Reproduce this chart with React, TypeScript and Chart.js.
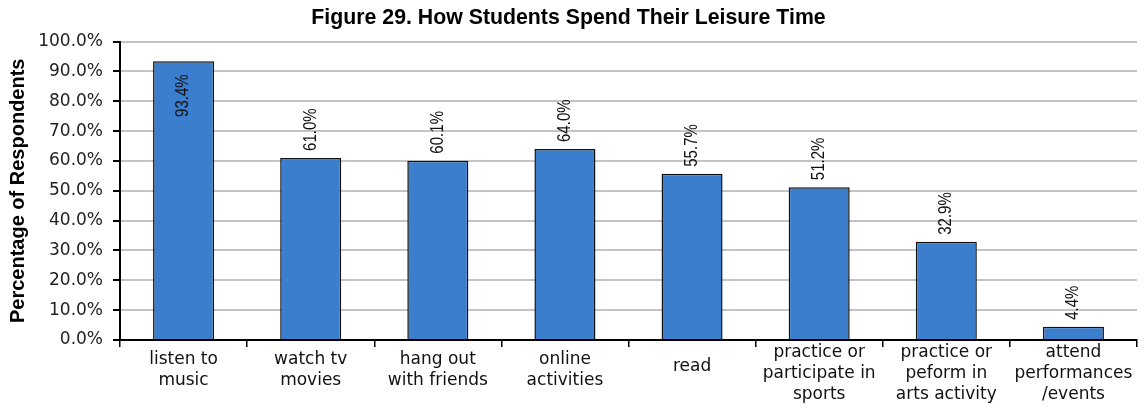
import React, { useEffect, useRef } from 'react';
import { Chart, registerables } from 'chart.js';
Chart.register(...registerables);

const titleText = 'Figure 29. How Students Spend Their Leisure Time';
const yTitle = 'Percentage of Respondents';
const categories: string[][] = [
  ['listen to', 'music'],
  ['watch tv', 'movies'],
  ['hang out', 'with friends'],
  ['online', 'activities'],
  ['read'],
  ['practice or', 'participate in', 'sports'],
  ['practice or', 'peform in', 'arts activity'],
  ['attend', 'performances', '/events'],
];
const values = [93.4, 61.0, 60.1, 64.0, 55.7, 51.2, 32.9, 4.4];

const TICK_FONT = '"DejaVu Sans", Verdana, sans-serif';
const BOLD_FONT = '"Liberation Sans", Arial, sans-serif';

const labelsPlugin = {
  id: 'customLabels',
  afterDatasetsDraw(chart: any) {
    const ctx = chart.ctx;
    const meta = chart.getDatasetMeta(0);
    const sq = 0.86;
    ctx.save();
    ctx.font = `17.5px ${BOLD_FONT}`;
    ctx.fillStyle = '#111';
    ctx.textBaseline = 'middle';
    meta.data.forEach((bar: any, i: number) => {
      const v = values[i];
      const txt = v.toFixed(1) + '%';
      ctx.save();
      ctx.translate(bar.x, bar.y);
      ctx.rotate(-Math.PI / 2);
      ctx.scale(sq, 1);
      if (v > 90) {
        ctx.textAlign = 'right';
        ctx.fillText(txt, -13 / sq, 0);
      } else {
        ctx.textAlign = 'left';
        ctx.fillText(txt, 7 / sq, 0);
      }
      ctx.restore();
    });
    // x labels
    const xs = chart.scales.x;
    ctx.font = `17px ${TICK_FONT}`;
    ctx.textAlign = 'center';
    ctx.textBaseline = 'middle';
    ctx.fillStyle = '#111';
    const lh = 21;
    categories.forEach((lines, i) => {
      const x = xs.getPixelForTick(i);
      const start = 352.5 + (3 - lines.length) * 7;
      lines.forEach((ln, j) => ctx.fillText(ln, x, start + j * lh));
    });
    ctx.restore();
  },
};

export default function App() {
  const ref = useRef<HTMLCanvasElement>(null);
  useEffect(() => {
    document.body.style.margin = '0';
    const chart = new Chart(ref.current!, {
      type: 'bar',
      data: {
        labels: categories.map((c) => c.join(' ')),
        datasets: [
          {
            data: values,
            backgroundColor: '#3a7ecd',
            borderColor: '#111',
            borderWidth: 1.5,
            barPercentage: 0.48,
            categoryPercentage: 1,
          },
        ],
      },
      options: {
        animation: false,
        responsive: false,
        maintainAspectRatio: false,
        layout: { padding: { left: 0, right: 8, top: 0, bottom: 0 } },
        plugins: {
          legend: { display: false },
          tooltip: { enabled: false },
          title: {
            display: true,
            text: titleText,
            color: '#000',
            font: { family: BOLD_FONT, size: 21.3, weight: 'bold' },
            padding: { top: 5, bottom: 11 },
          },
        },
        scales: {
          x: {
            grid: {
              display: true,
              drawOnChartArea: false,
              drawTicks: true,
              tickLength: 7,
              color: '#000',
              tickColor: '#000',
              lineWidth: 1.5,
            },
            border: { display: true, color: '#000', width: 2 },
            ticks: { display: false },
            afterFit: (s: any) => {
              s.height = 73;
            },
          },
          y: {
            min: 0,
            max: 100,
            ticks: {
              stepSize: 10,
              callback: (v: any) => Number(v).toFixed(1) + '%',
              color: '#222',
              font: { family: TICK_FONT, size: 17 },
              padding: 10,
            },
            grid: {
              color: '#c4c4c4',
              lineWidth: 2,
              tickColor: '#000',
              tickLength: 7,
            },
            border: { display: true, color: '#000', width: 2 },
            title: {
              display: true,
              text: yTitle,
              color: '#000',
              font: { family: BOLD_FONT, size: 20, weight: 'bold' },
              padding: { top: 6, bottom: 4 },
            },
            afterFit: (s: any) => {
              s.width = 120;
            },
          },
        },
      },
      plugins: [labelsPlugin],
    });
    return () => chart.destroy();
  }, []);
  return <canvas ref={ref} width={1145} height={413} style={{ display: 'block' }} />;
}
